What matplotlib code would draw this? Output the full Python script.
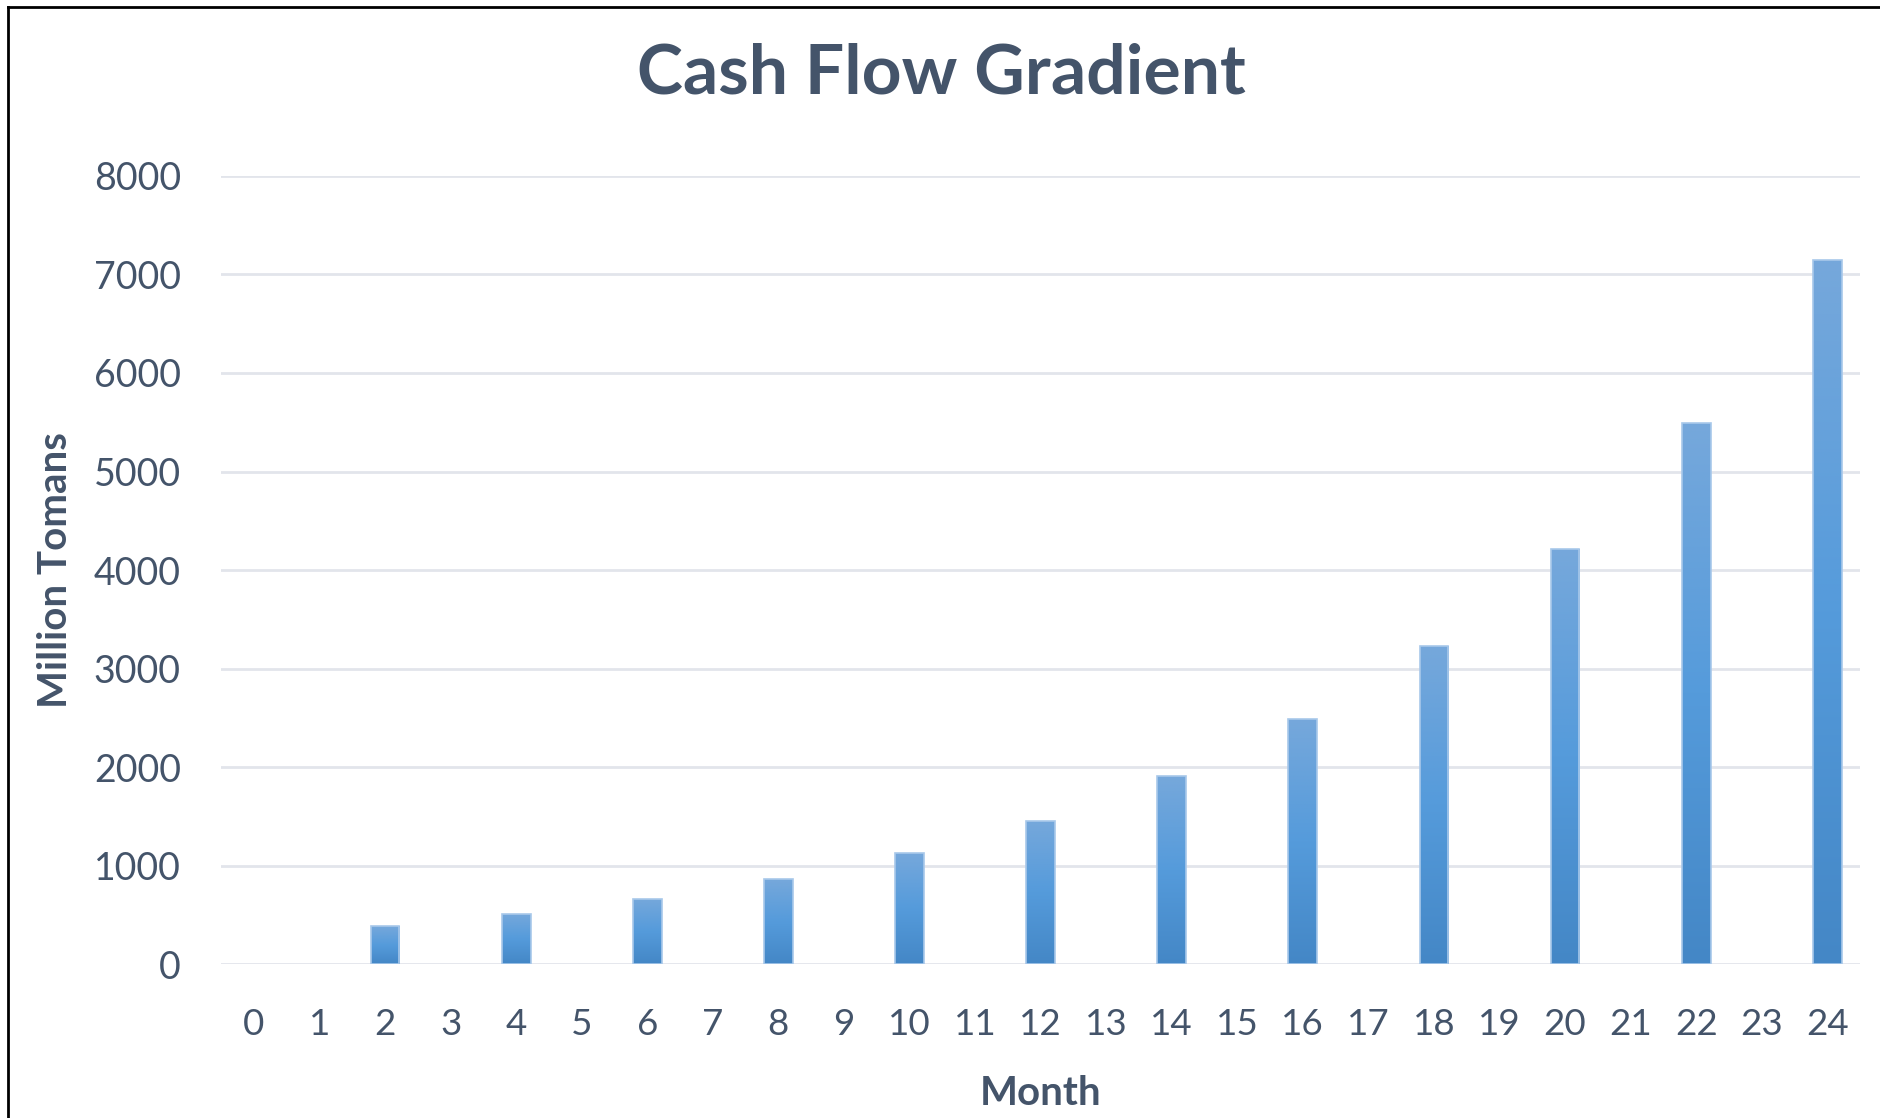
import matplotlib
matplotlib.use("Agg")
import matplotlib.pyplot as plt
import numpy as np
from matplotlib.colors import LinearSegmentedColormap
from matplotlib.lines import Line2D

# Daten: Monat und Cashflow (Million Tomans)
months = list(range(25))
cash_flow = [0, 0, 382, 0, 508, 0, 660, 0, 859, 0, 1123, 0, 1452, 0,
             1905, 0, 2487, 0, 3230, 0, 4210, 0, 5496, 0, 7147]
y_ticks = [0, 1000, 2000, 3000, 4000, 5000, 6000, 7000, 8000]

text_color = "#44546A"
plt.rcParams["font.family"] = ["Lato", "DejaVu Sans"]

fig = plt.figure(figsize=(18.8, 11.18), dpi=100)
ax = fig.add_axes([0.1176, 0.1377, 0.8718, 0.7049])

# Balken zeichnen, Verlauf wird danach hineingelegt
bars = ax.bar(months, cash_flow, width=0.44, facecolor="none",
              edgecolor="#A8C8EA", linewidth=1.2, zorder=3)

cmap = LinearSegmentedColormap.from_list(
    "excel_blue", ["#4487C6", "#559BDB", "#76A8DB"])
grad = np.linspace(0, 1, 256).reshape(-1, 1)
for rect in bars.patches:
    h = rect.get_height()
    if h <= 0:
        rect.set_visible(False)
        continue
    x0 = rect.get_x()
    x1 = x0 + rect.get_width()
    im = ax.imshow(grad, extent=[x0, x1, 0, h], origin="lower",
                   aspect="auto", cmap=cmap, zorder=2)
    im.set_clip_path(rect)

ax.set_xlim(-0.5, 24.5)
ax.set_ylim(0, 8000)
ax.set_xticks(months)
ax.set_yticks(y_ticks)
ax.set_xticklabels([str(m) for m in months])
ax.grid(axis="y", color="#E2E5EB", linewidth=2, zorder=0)
ax.set_axisbelow(True)
for s in ax.spines.values():
    s.set_visible(False)
ax.tick_params(axis="both", length=0, labelcolor=text_color)
ax.tick_params(axis="y", pad=29, labelsize=27)
ax.tick_params(axis="x", pad=32, labelsize=26.5)

ax.set_xlabel("Month", fontsize=29, fontweight="bold", color=text_color, labelpad=24)
ax.set_ylabel("Million Tomans", fontsize=29, fontweight="bold", color=text_color, labelpad=14)
fig.text(0.5005, 0.934, "Cash Flow Gradient", ha="center", va="center",
         fontsize=50, fontweight="bold", color=text_color)

# Rahmen oben und links
fig.add_artist(Line2D([0.0045, 0.0045], [0, 0.994], transform=fig.transFigure,
                      color="black", linewidth=2))
fig.add_artist(Line2D([0.0045, 1], [0.994, 0.994], transform=fig.transFigure,
                      color="black", linewidth=2))

fig.savefig("out.png", dpi=100)
